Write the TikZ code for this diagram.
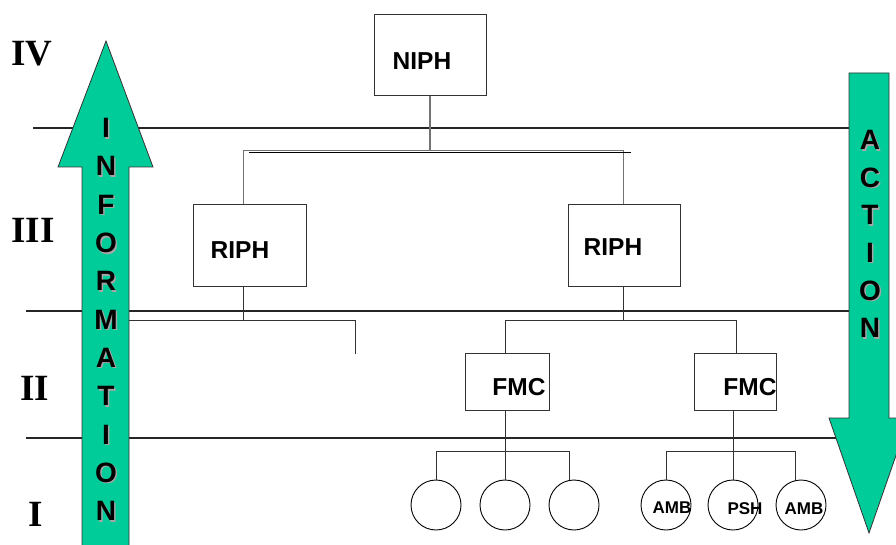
\documentclass[tikz,border=0pt]{standalone}
\usepackage{fontspec}
\setmainfont{Liberation Sans}
\newfontfamily\romanfont{Liberation Serif}
\definecolor{arrowgreen}{RGB}{0,204,153}
\begin{document}
\begin{tikzpicture}[x=1pt,y=-1pt,
  rule/.style={draw=black!85,line width=1.2pt},
  conn/.style={draw=black!80,line width=0.9pt},
  boxnode/.style={draw=black!80,line width=0.9pt,fill=white,inner sep=0pt},
  lbl/.style={font=\fontsize{24.5}{28}\selectfont\bfseries,inner sep=0pt},
  small/.style={font=\fontsize{17}{20}\selectfont\bfseries,inner sep=0pt},
  roman/.style={font=\romanfont\fontsize{37}{40}\selectfont\bfseries,inner sep=0pt},
  letter/.style={font=\fontsize{28}{30}\selectfont\bfseries,inner sep=0pt},
  shadow/.style={letter,text=black!35},
  bigarrow/.style={fill=arrowgreen,draw=black!80,line width=0.8pt},
  circ/.style={circle,draw=black,line width=0.9pt,minimum size=50pt,inner sep=0pt}]
\useasboundingbox (0,0) rectangle (896,545);
\clip (0,0) rectangle (896,545);

% level rules
\coordinate (r1a) at (33,128);  \coordinate (r1b) at (855,128);
\coordinate (r2a) at (26,311);  \coordinate (r2b) at (855,311);
\coordinate (r3a) at (26,438);  \coordinate (r3b) at (845,438);
\draw[rule] (r1a) -- (r1b);
\draw[rule] (r2a) -- (r2b);
\draw[rule] (r3a) -- (r3b);

% roman numerals
\node[roman] (lvIV) at (32,54) {IV};
\node[roman] (lvIII) at (33,230) {III};
\node[roman] (lvII) at (35,388) {II};
\node[roman] (lvI) at (36,514) {I};

% boxes
\node[boxnode,minimum width=112pt,minimum height=81pt] (niph) at (430,55) {};
\node[boxnode,minimum width=113pt,minimum height=82pt] (riphL) at (249.5,245) {};
\node[boxnode,minimum width=112pt,minimum height=82pt] (riphR) at (624,245) {};
\node[boxnode,minimum width=84pt,minimum height=57pt] (fmcL) at (507,382) {};
\node[boxnode,minimum width=82pt,minimum height=57pt] (fmcR) at (735,382) {};

% labels
\node[lbl] (niphT) at (422,61) {NIPH};
\node[lbl] (riphLT) at (240,250) {RIPH};
\node[lbl] (riphRT) at (613,247) {RIPH};
\node[lbl] (fmcLT) at (519,387) {FMC};
\node[lbl] (fmcRT) at (750,387) {FMC};

% circles
\node[circ] (c1) at (436,505) {};
\node[circ] (c2) at (505,505) {};
\node[circ] (c3) at (574,505) {};
\node[circ] (c4) at (666,505) {};
\node[circ] (c5) at (733,505) {};
\node[circ] (c6) at (801,505) {};
\node[small] (c4T) at (672,508) {AMB};
\node[small] (c5T) at (745,509) {PSH};
\node[small] (c6T) at (804,509) {AMB};

% NIPH -> RIPH
\coordinate (b1L) at (243,150); \coordinate (b1R) at (623,150);
\coordinate (b1Lb) at (249,152); \coordinate (b1Rb) at (631,152);
\draw[conn,draw=black!55,line width=1.3pt] (niph.south) -- (niph.south |- b1L);
\draw[conn,draw=black!55] (riphL.north -| b1L) -- (b1L) -- (b1R) -- (riphR.north -| b1R);
\draw[conn,draw=black] (b1Lb) -- (b1Rb);

% left RIPH branch
\coordinate (b2L) at (120,320); \coordinate (b2R) at (355,320); \coordinate (b2E) at (355,354);
\draw[conn] (riphL.south -| 243,0) -- (243,320);
\draw[conn] (b2L) -- (b2R) -- (b2E);

% right RIPH -> FMCs
\coordinate (b3L) at (505,320); \coordinate (b3R) at (736,320);
\draw[conn] (riphR.south -| b1R) -- (b1R |- b3L);
\draw[conn] (fmcL.north -| b3L) -- (b3L) -- (b3R) -- (fmcR.north -| b3R);

% FMC -> circles
\coordinate (b4L) at (436,451); \coordinate (b4R) at (569,451);
\draw[conn] (fmcL.south -| c2) -- (c2.north);
\draw[conn] (c1.north) -- (b4L) -- (b4R) -- (c3.north -| b4R);
\coordinate (b5L) at (666,451); \coordinate (b5R) at (795,451);
\draw[conn] (fmcR.south -| c5) -- (c5.north);
\draw[conn] (c4.north) -- (b5L) -- (b5R) -- (c6.north -| b5R);

% information arrow
\draw[bigarrow] (82,550) -- (82,167) -- (58,167) -- (106,41) -- (153,167) -- (129,167) -- (129,550) -- cycle;
% action arrow
\draw[bigarrow] (849,73) -- (889,73) -- (889,418) -- (909,418) -- (869,533) -- (829,418) -- (849,418) -- cycle;

\foreach \l [count=\i] in {I,N,F,O,R,M,A,T,I,O,N} {
  \node[shadow] (infS\i) at ({106+1.5},{128+(\i-1)*38.3+1.5}) {\l};
  \node[letter] (inf\i) at (106,{128+(\i-1)*38.3}) {\l};
}
\foreach \l [count=\i] in {A,C,T,I,O,N} {
  \node[shadow] (actS\i) at ({870+1.5},{140+(\i-1)*37.6+1.5}) {\l};
  \node[letter] (act\i) at (870,{140+(\i-1)*37.6}) {\l};
}
\end{tikzpicture}
\end{document}
